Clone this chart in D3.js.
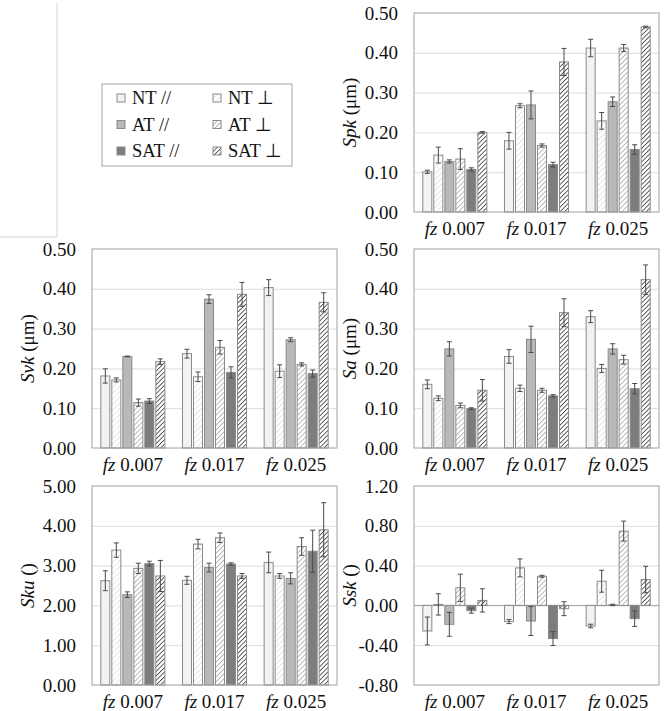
<!DOCTYPE html>
<html>
<head>
<meta charset="utf-8">
<script src="https://cdn.jsdelivr.net/npm/d3@7"></script>
<style>
body { margin: 0; background: #fff; }
svg { display: block; }
</style>
</head>
<body>
<div id="chart"></div>
<script>
// categories
var groups = ["0.007", "0.017", "0.025"];
var series = ["NT //", "NT ⊥", "AT //", "AT ⊥", "SAT //", "SAT ⊥"];

// values per group (rows) and series (columns)
var spkMean = [[0.101, 0.143, 0.127, 0.133, 0.107, 0.200],
               [0.179, 0.267, 0.269, 0.167, 0.119, 0.377],
               [0.412, 0.229, 0.277, 0.412, 0.157, 0.465]];
var spkErr  = [[0.004, 0.020, 0.004, 0.026, 0.004, 0.002],
               [0.021, 0.005, 0.035, 0.004, 0.006, 0.034],
               [0.022, 0.021, 0.012, 0.009, 0.012, 0.002]];

var svkMean = [[0.181, 0.171, 0.230, 0.114, 0.118, 0.217],
               [0.237, 0.179, 0.374, 0.253, 0.190, 0.386],
               [0.403, 0.193, 0.272, 0.210, 0.187, 0.366]];
var svkErr  = [[0.018, 0.005, 0.001, 0.009, 0.006, 0.007],
               [0.011, 0.012, 0.011, 0.017, 0.014, 0.030],
               [0.020, 0.016, 0.005, 0.004, 0.009, 0.024]];

var saMean  = [[0.160, 0.125, 0.249, 0.107, 0.099, 0.145],
               [0.230, 0.150, 0.273, 0.145, 0.131, 0.340],
               [0.330, 0.200, 0.249, 0.222, 0.149, 0.423]];
var saErr   = [[0.011, 0.006, 0.018, 0.006, 0.002, 0.027],
               [0.017, 0.008, 0.033, 0.005, 0.003, 0.035],
               [0.015, 0.010, 0.013, 0.011, 0.013, 0.037]];

var skuMean = [[2.62, 3.39, 2.27, 2.93, 3.05, 2.74],
               [2.63, 3.54, 2.95, 3.70, 3.04, 2.74],
               [3.08, 2.74, 2.68, 3.48, 3.36, 3.90]];
var skuErr  = [[0.25, 0.18, 0.07, 0.13, 0.06, 0.39],
               [0.10, 0.12, 0.11, 0.12, 0.03, 0.06],
               [0.26, 0.06, 0.14, 0.22, 0.53, 0.68]];

var sskMean = [[-0.257, 0.01, -0.19, 0.177, -0.053, 0.05],
               [-0.163, 0.377, -0.157, 0.293, -0.333, -0.033],
               [-0.207, 0.243, 0.005, 0.747, -0.133, 0.26]];
var sskErr  = [[0.14, 0.107, 0.12, 0.137, 0.025, 0.117],
               [0.02, 0.09, 0.145, 0.01, 0.07, 0.07],
               [0.018, 0.11, 0.007, 0.10, 0.078, 0.133]];

// tick labels
var ticks05 = [0, 0.1, 0.2, 0.3, 0.4, 0.5];
var sku_ticks = [0, 1, 2, 3, 4, 5];
var ssk_ticks = [-0.8, -0.4, 0, 0.4, 0.8, 1.2];

var W = 665, H = 711;
var plotW = 245, plotH = 199;
var colX = [92, 414];
var rowY = [13, 249, 486];
var FONT = "'Liberation Serif', 'Times New Roman', serif";

var fmt = d3.formatLocale({decimal: ".", thousands: ",", grouping: [3], currency: ["", ""], minus: "-"}).format(".2f");

var fills = ["#f2f2f2", "url(#hatchNT)", "#b8b8b8", "url(#hatchAT)", "#7d7d7d", "url(#hatchSAT)"];

var svg = d3.select("#chart").append("svg")
    .attr("width", W)
    .attr("height", H);

// hatch patterns
var defs = svg.append("defs");
function hatch(id, color, gap, sw) {
    var p = defs.append("pattern")
        .attr("id", id)
        .attr("patternUnits", "userSpaceOnUse")
        .attr("width", gap)
        .attr("height", gap)
        .attr("patternTransform", "rotate(45)");
    p.append("rect").attr("width", gap).attr("height", gap).attr("fill", "#fff");
    p.append("line")
        .attr("x1", 0).attr("y1", 0).attr("x2", 0).attr("y2", gap)
        .attr("stroke", color)
        .attr("stroke-width", sw);
}
hatch("hatchNT", "#d8d8d8", 4, 1.3);
hatch("hatchAT", "#9c9c9c", 3.5, 1.4);
hatch("hatchSAT", "#444", 3.2, 1.7);

// frame edge of neighbouring figure
svg.append("path")
    .attr("d", "M57,3V237H0")
    .attr("fill", "none")
    .attr("stroke", "#d6d6d6")
    .attr("stroke-width", 1);

var x0 = d3.scaleBand().domain(groups).range([0, plotW]).padding(0);
var x1 = d3.scaleBand().domain(series).range([0, x0.bandwidth()])
    .paddingInner(0.18).paddingOuter(0.8);

function drawPanel(left, top, name, unit, mean, err, ticks) {
    var y = d3.scaleLinear()
        .domain([ticks[0], ticks[ticks.length - 1]])
        .range([plotH, 0]);

    var g = svg.append("g").attr("transform", "translate(" + left + "," + top + ")");

    // gridlines
    g.append("g")
        .attr("class", "grid")
        .call(d3.axisLeft(y).tickValues(ticks.slice(1, -1)).tickSize(-plotW).tickFormat(""))
        .call(function (s) {
            s.select(".domain").remove();
            s.selectAll("line").attr("stroke", "#dcdcdc");
        });

    // zero line when the axis crosses zero
    if (ticks[0] < 0) {
        g.append("line")
            .attr("x1", 0).attr("x2", plotW)
            .attr("y1", y(0)).attr("y2", y(0))
            .attr("stroke", "#a6a6a6");
    }

    // bar groups
    var grp = g.selectAll(".grp")
        .data(mean.map(function (row, i) { return {group: groups[i], vals: row, errs: err[i]}; }))
        .enter().append("g")
        .attr("class", "grp")
        .attr("transform", function (d) { return "translate(" + x0(d.group) + ",0)"; });

    var bar = grp.selectAll(".bar")
        .data(function (d) {
            return d.vals.map(function (v, j) { return {s: series[j], v: v, e: d.errs[j], j: j}; });
        })
        .enter().append("g")
        .attr("class", "bar");

    bar.append("rect")
        .attr("x", function (d) { return x1(d.s); })
        .attr("y", function (d) { return y(Math.max(0, d.v)); })
        .attr("width", x1.bandwidth())
        .attr("height", function (d) { return Math.abs(y(d.v) - y(0)); })
        .attr("fill", function (d) { return fills[d.j]; })
        .attr("stroke", "#8a8a8a")
        .attr("stroke-width", 1);

    // error bars
    var cx = function (d) { return x1(d.s) + x1.bandwidth() / 2; };
    bar.append("line")
        .attr("x1", cx).attr("x2", cx)
        .attr("y1", function (d) { return y(d.v - d.e); })
        .attr("y2", function (d) { return y(d.v + d.e); })
        .attr("stroke", "#4a4a4a");
    [-1, 1].forEach(function (k) {
        bar.append("line")
            .attr("x1", function (d) { return cx(d) - 2.5; })
            .attr("x2", function (d) { return cx(d) + 2.5; })
            .attr("y1", function (d) { return y(d.v + k * d.e); })
            .attr("y2", function (d) { return y(d.v + k * d.e); })
            .attr("stroke", "#4a4a4a");
    });

    // plot border
    g.append("rect")
        .attr("width", plotW).attr("height", plotH)
        .attr("fill", "none")
        .attr("stroke", "#a0a0a0");

    // y axis labels
    g.append("g")
        .call(d3.axisLeft(y).tickValues(ticks).tickSize(0).tickPadding(16).tickFormat(fmt))
        .call(function (s) {
            s.select(".domain").remove();
            s.selectAll("text")
                .style("font-family", FONT)
                .style("font-size", "19px")
                .attr("fill", "#111");
        });

    // x axis labels
    g.append("g")
        .attr("transform", "translate(0," + plotH + ")")
        .call(d3.axisBottom(x0).tickSize(0).tickPadding(10))
        .call(function (s) {
            s.select(".domain").remove();
            s.selectAll("text").each(function (d) {
                var t = d3.select(this).text(null)
                    .style("font-family", FONT)
                    .style("font-size", "19px")
                    .attr("fill", "#111");
                t.append("tspan").style("font-style", "italic").text("fz");
                t.append("tspan").text(" " + d);
            });
        });

    // y axis title
    var title = g.append("text")
        .attr("transform", "translate(-64," + plotH / 2 + ") rotate(-90)")
        .attr("text-anchor", "middle")
        .attr("dy", "0.32em")
        .style("font-family", FONT)
        .style("font-size", "19px")
        .attr("fill", "#111");
    title.append("tspan").style("font-style", "italic").text(name);
    title.append("tspan").text(" " + unit);
}

drawPanel(colX[1], rowY[0], "Spk", "(μm)", spkMean, spkErr, ticks05);
drawPanel(colX[0], rowY[1], "Svk", "(μm)", svkMean, svkErr, ticks05);
drawPanel(colX[1], rowY[1], "Sa", "(μm)", saMean, saErr, ticks05);
drawPanel(colX[0], rowY[2], "Sku", "()", skuMean, skuErr, sku_ticks);
drawPanel(colX[1], rowY[2], "Ssk", "()", sskMean, sskErr, ssk_ticks);

// legend
var legend = svg.append("g").attr("transform", "translate(102,84)");
legend.append("rect")
    .attr("width", 190).attr("height", 82)
    .attr("fill", "#fff")
    .attr("stroke", "#a6a6a6");

var legItem = legend.selectAll(".leg")
    .data(series)
    .enter().append("g")
    .attr("class", "leg")
    .attr("transform", function (d, i) {
        return "translate(" + (i % 2 === 0 ? 15 : 111) + "," + [14, 40.5, 67][Math.floor(i / 2)] + ")";
    });
legItem.append("rect")
    .attr("x", 0).attr("y", -4)
    .attr("width", 8).attr("height", 8)
    .attr("fill", function (d, i) { return fills[i]; })
    .attr("stroke", "#8a8a8a");
legItem.append("text")
    .attr("x", 15)
    .attr("dy", "0.35em")
    .style("font-family", FONT)
    .style("font-size", "18.5px")
    .attr("fill", "#111")
    .text(function (d) { return d; });
</script>
</body>
</html>
